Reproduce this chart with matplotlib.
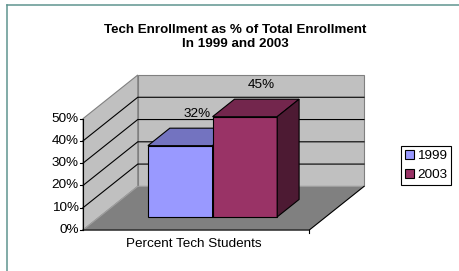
import matplotlib.pyplot as plt
from matplotlib.patches import Polygon, Patch
from matplotlib.lines import Line2D

plt.rcParams["font.family"] = ["Liberation Sans", "DejaVu Sans"]

title = "Tech Enrollment as % of Total Enrollment\nIn 1999 and 2003"
category = "Percent Tech Students"
series = ["1999", "2003"]
values = [32, 45]
yticks = [0, 10, 20, 30, 40, 50]

front_colors = ["#9999FF", "#993366"]
top_colors = ["#7373C0", "#73264D"]
side_colors = ["#4C4C80", "#4D1A33"]

W, H = 460, 271
fig = plt.figure(figsize=(W / 100, H / 100), dpi=100)

# axes spans the front-left corner of the floor to the top-right of the back wall (pixels)
x0p, x1p, y0p, y1p = 83, 364, 230, 75
ax = fig.add_axes([x0p / W, 1 - y0p / H, (x1p - x0p) / W, (y0p - y1p) / H])
ax.axis("off")

ymax = yticks[-1]
DX = 0.242   # depth offset in category units
DY = 19.6    # depth offset in value units
ax.set_xlim(0, 1 + DX)
ax.set_ylim(0, ymax + DY)

wall = "#C0C0C0"
edge = "#808080"


def poly(pts, fc, ec, lw=0.8, z=1):
    ax.add_patch(Polygon(pts, closed=True, facecolor=fc, edgecolor=ec,
                         linewidth=lw, zorder=z, clip_on=False))


# walls and floor
poly([(DX, DY), (1 + DX, DY), (1 + DX, ymax + DY), (DX, ymax + DY)], wall, edge)
poly([(0, 0), (DX, DY), (DX, ymax + DY), (0, ymax)], wall, edge)
poly([(0, 0), (1, 0), (1 + DX, DY), (DX, DY)], "#808080", "#A0A0A0")

# gridlines
for v in yticks[1:-1]:
    ax.plot([0, DX, 1 + DX], [v, v + DY, v + DY], color="black", lw=0.8,
            zorder=2, clip_on=False)

# axis lines
ax.plot([0, 0], [0, ymax], color="black", lw=0.8, zorder=3, clip_on=False)
ax.plot([0, 1, 1 + DX], [0, 0, DY], color="black", lw=0.8, zorder=3, clip_on=False)
for v in yticks:
    ax.plot([-0.013, 0], [v, v], color="black", lw=0.8, zorder=3, clip_on=False)
    ax.text(-0.018, v, f"{v}%", ha="right", va="center", fontsize=9.7)
ax.plot([1, 1], [0, -1.4], color="black", lw=0.8, zorder=3, clip_on=False)
ax.text(0.49, -6.3, category, ha="center", va="center", fontsize=9.7)

# bars: gap width 150%, gap depth 150%
n = len(values)
bw = 1 / (n + 1.5)
z0, z1 = 0.3, 0.7
start = 0.75 * bw
for i, (v, name) in enumerate(zip(values, series)):
    a = start + i * bw
    b = a + bw
    fx, fy = z0 * DX, z0 * DY
    bx, by = z1 * DX, z1 * DY
    poly([(a + fx, fy), (b + fx, fy), (b + fx, v + fy), (a + fx, v + fy)],
         front_colors[i], "black", z=5 + i)
    poly([(a + fx, v + fy), (b + fx, v + fy), (b + bx, v + by), (a + bx, v + by)],
         top_colors[i], "black", z=5 + i)
    poly([(b + fx, fy), (b + bx, by), (b + bx, v + by), (b + fx, v + fy)],
         side_colors[i], "black", z=5 + i)
    cx = (a + b) / 2 + 0.6 * DX
    ax.text(cx, v + 0.6 * DY + 8.5, f"{v}%", ha="center", va="center",
            fontsize=9.7, zorder=10)

fig.text(235 / W, 1 - 37 / H, title, ha="center", va="center", fontsize=9.6,
         fontweight="bold", linespacing=1.3)

handles = [Patch(facecolor=c, edgecolor="black", linewidth=0.8) for c in front_colors]
leg = fig.legend(handles, series, loc="center left",
                 bbox_to_anchor=(401 / W, 1 - 165.5 / H), fontsize=9.7,
                 frameon=True, fancybox=False, edgecolor="black", framealpha=1,
                 handlelength=0.7, handleheight=0.7, handletextpad=0.2,
                 borderpad=0.3, labelspacing=0.5, borderaxespad=0)
leg.get_frame().set_linewidth(0.8)

# outer chart border (top and left only visible)
bc = "#5F9490"
fig.add_artist(Line2D([7 / W, 1], [1 - 5 / H, 1 - 5 / H], color=bc, lw=1.1))
fig.add_artist(Line2D([7 / W, 7 / W], [0, 1 - 5 / H], color=bc, lw=1.1))

fig.savefig("out.png", dpi=100)
